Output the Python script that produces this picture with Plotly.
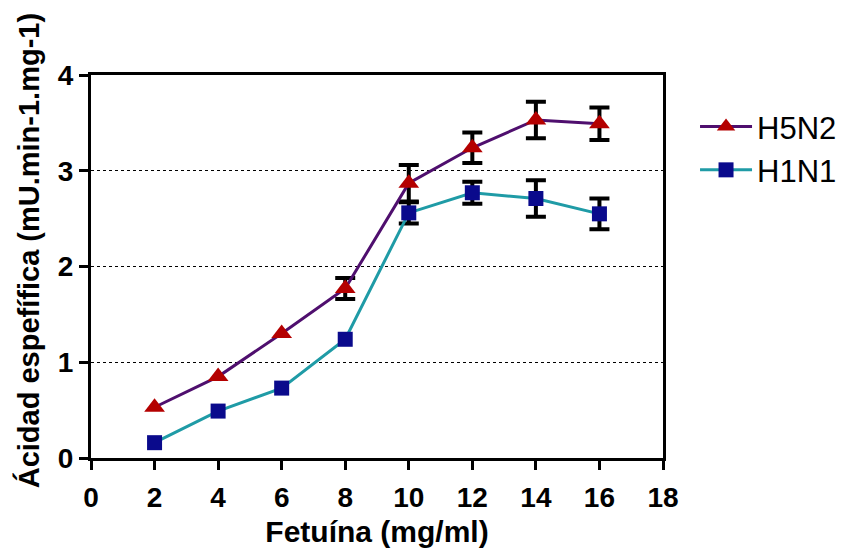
import plotly.graph_objects as go

# Fetuin concentration (mg/ml)
fetuina = [2, 4, 6, 8, 10, 12, 14, 16]

# Specific activity, mean and SD per strain (0 = no error bar shown)
h5n2 = [0.53, 0.85, 1.30, 1.77, 2.87, 3.24, 3.53, 3.49]
h5n2_err = [0, 0, 0, 0.11, 0.19, 0.16, 0.19, 0.17]
h1n1 = [0.16, 0.49, 0.73, 1.24, 2.56, 2.77, 2.71, 2.55]
h1n1_err = [0, 0, 0, 0, 0.11, 0.115, 0.19, 0.16]

x_ticks = list(range(0, 19, 2))
y_ticks = [0, 1, 2, 3, 4]

FONT = "Arial, Liberation Sans, sans-serif"

fig = go.Figure()


def add_error_bars(xs, ys, errs):
    """Error bars only where an SD exists, drawn underneath the series."""
    pts = [(x, y, e) for x, y, e in zip(xs, ys, errs) if e > 0]
    fig.add_trace(go.Scatter(
        x=[p[0] for p in pts], y=[p[1] for p in pts], mode="markers",
        marker=dict(size=1, opacity=0), showlegend=False, hoverinfo="skip",
        error_y=dict(type="data", array=[p[2] for p in pts], visible=True,
                     color="black", thickness=4, width=10),
    ))


add_error_bars(fetuina, h5n2, h5n2_err)
add_error_bars(fetuina, h1n1, h1n1_err)

fig.add_trace(go.Scatter(
    x=fetuina, y=h5n2, name="H5N2", mode="lines+markers",
    line=dict(color="#4f0f6e", width=3),
    marker=dict(symbol="triangle-up", size=18, color="#b40000"),
))
fig.add_trace(go.Scatter(
    x=fetuina, y=h1n1, name="H1N1", mode="lines+markers",
    line=dict(color="#1f9ba6", width=3),
    marker=dict(symbol="square", size=15, color="#0a0a8c"),
))

fig.update_layout(
    width=848, height=548,
    margin=dict(l=91, r=185, t=75, b=90, autoexpand=False),
    paper_bgcolor="white", plot_bgcolor="white",
    font=dict(family=FONT, color="black"),
    legend=dict(
        x=1.056, y=0.935, xanchor="left", yanchor="top",
        font=dict(size=31, family=FONT, color="black"),
        itemwidth=52, tracegroupgap=0, bgcolor="rgba(0,0,0,0)",
    ),
    annotations=[dict(
        text="Ácidad espefífica (mU.min-1.mg-1)", textangle=-90,
        xref="paper", yref="paper", x=-0.11, y=0.54,
        xanchor="center", yanchor="middle", showarrow=False,
        font=dict(size=29, family=FONT, color="black", weight="bold"),
    )],
)

fig.update_xaxes(
    range=[0, 18], tickvals=x_ticks, ticktext=[str(v) for v in x_ticks],
    showline=True, linecolor="black", linewidth=3, mirror=True,
    ticks="outside", ticklen=9, tickwidth=3, tickcolor="black",
    showgrid=False, zeroline=False, ticklabelstandoff=3,
    tickfont=dict(size=28, family=FONT, color="black", weight="bold"),
    title=dict(text="Fetuína (mg/ml)", standoff=14,
               font=dict(size=30, family=FONT, color="black", weight="bold")),
)
fig.update_yaxes(
    range=[0, 4], tickvals=y_ticks, ticktext=[str(v) for v in y_ticks],
    showline=True, linecolor="black", linewidth=3, mirror=True,
    ticks="outside", ticklen=9, tickwidth=3, tickcolor="black",
    showgrid=True, gridcolor="black", gridwidth=1, griddash="dot",
    zeroline=False,
    tickfont=dict(size=28, family=FONT, color="black", weight="bold"),
)

fig.write_html("out.html")
